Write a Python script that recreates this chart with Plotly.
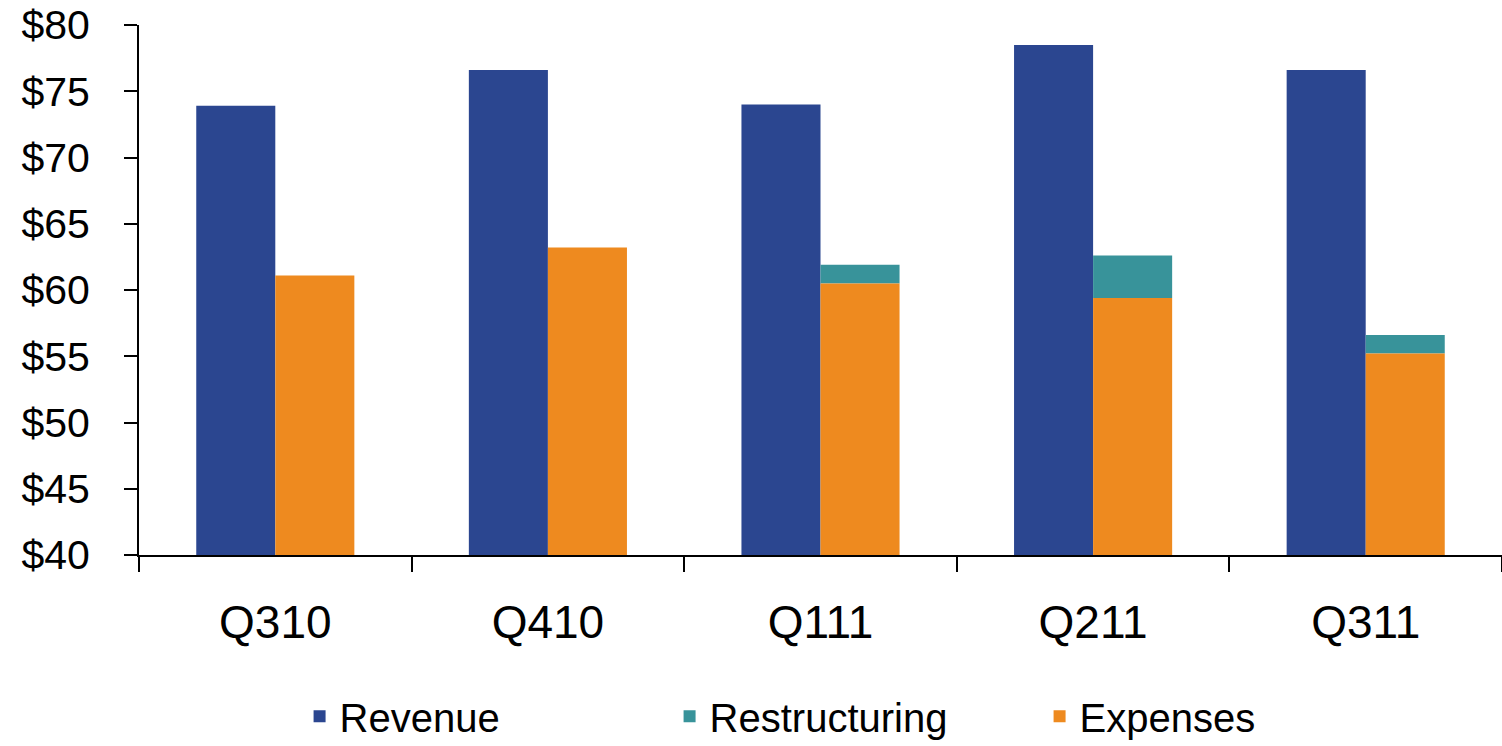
import plotly.graph_objects as go

quarters = ["Q310", "Q410", "Q111", "Q211", "Q311"]
revenue = [73.9, 76.6, 74.0, 78.5, 76.6]
expenses = [61.1, 63.2, 60.5, 59.4, 55.2]
restructuring = [0.0, 0.0, 1.4, 3.2, 1.4]
y_ticks = [40, 45, 50, 55, 60, 65, 70, 75, 80]
y_tick_labels = ["$" + str(v) for v in y_ticks]

BLUE = "#2B4690"
TEAL = "#38939A"
ORANGE = "#EE8A1F"

fig = go.Figure()
fig.add_trace(go.Bar(name="Revenue", x=quarters, y=revenue, marker_color=BLUE,
                     offsetgroup="rev", marker_line_width=0))
fig.add_trace(go.Bar(name="Restructuring", x=quarters, y=restructuring, base=expenses,
                     marker_color=TEAL, offsetgroup="exp", marker_line_width=0))
fig.add_trace(go.Bar(name="Expenses", x=quarters, y=[e - 40 for e in expenses], base=40,
                     marker_color=ORANGE, offsetgroup="exp", marker_line_width=0))

fig.update_layout(
    width=1502, height=746,
    margin=dict(l=139, r=0, t=25, b=191, autoexpand=False),
    paper_bgcolor="white", plot_bgcolor="white",
    barmode="group", bargap=0.42, bargroupgap=0,
    font=dict(family="Liberation Sans, Arial, sans-serif", color="black"),
    showlegend=True,
    legend=dict(orientation="h", x=0.525, xanchor="center", y=-0.243, yanchor="top",
                font=dict(size=40), traceorder="normal", entrywidth=325,
                itemwidth=30),
)
fig.update_yaxes(range=[40, 80], tickvals=y_ticks, ticktext=y_tick_labels,
                 showgrid=False, zeroline=False, showline=True, linecolor="black",
                 linewidth=2, ticks="outside", ticklen=13, tickwidth=2, tickcolor="black",
                 tickfont=dict(size=41), ticklabelstandoff=26, automargin=False,
                 ticklabeloverflow="allow")
fig.update_xaxes(showgrid=False, showline=True, linecolor="black", linewidth=2,
                 ticks="outside", tickson="boundaries", ticklen=15, tickwidth=2,
                 tickcolor="black", tickfont=dict(size=46), ticklabelstandoff=26,
                 automargin=False, ticklabeloverflow="allow")

fig.write_html("out.html", config={"displayModeBar": False},
               post_script="document.body.style.margin='0';document.body.style.overflow='hidden';")
